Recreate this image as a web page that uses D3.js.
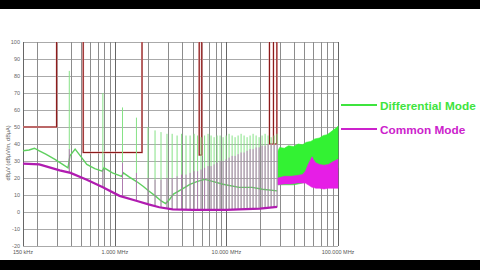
<!DOCTYPE html>
<html lang="en">
<head>
<meta charset="UTF-8">
<title>DM / CM spectrum</title>
<script src="https://cdn.jsdelivr.net/npm/d3@7"></script>
<style>
  html,body{margin:0;padding:0;width:480px;height:270px;overflow:hidden;background:#000;}
  svg{display:block;}
  text{font-family:"Liberation Sans",Arial,sans-serif;}
</style>
</head>
<body>
<svg id="chart" width="480" height="270"></svg>
<script>
// ---- values ----
var xTickValues = [0.15, 1, 10, 100];
var xTickLabels = ["150 kHz", "1.000 MHz", "10.000 MHz", "100.000 MHz"];
var yTickValues = [100, 90, 80, 70, 60, 50, 40, 30, 20, 10, 0, -10, -20];

// limit masks (MHz, dB)
var limitLW = [[0.15, 50], [0.30, 50], [0.30, 100]];
var limitMW = [[0.52, 100], [0.52, 35], [1.75, 35], [1.75, 100]];
var limitSW = [[5.7, 100], [5.7, 33.5], [6.0, 33.5], [6.0, 100]];
var limitCB = [[24.3, 100], [24.3, 40], [28.3, 40], [28.3, 100]];
var limitCBmid = [[26.4, 100], [26.4, 40]];

// differential mode floor (green) up to 30 MHz
var dmTrace = [[0.15,36],[0.17,36.5],[0.19,37.5],[0.21,36],[0.24,34],[0.29,31],[0.34,28],[0.38,26],
  [0.395,33],[0.44,37],[0.49,33],[0.56,28],[0.66,25.5],[0.77,24],[0.8,26],[0.95,23],[1.15,21],
  [1.19,23],[1.35,20.5],[1.55,18],[1.6,17.5],[1.8,15],[2.0,12.5],[2.3,9.5],[2.6,6.5],[2.85,5],
  [3.1,7.5],[3.35,10.5],[4.0,13.5],[4.7,16.3],[5.5,18],[6.4,19.2],[7.5,18],[9.3,16.3],[13,14.5],
  [17,14.5],[21,13.4],[28.5,12.4]];

// common mode floor (magenta) up to 30 MHz
var cmTrace = [[0.15,28.5],[0.21,28],[0.32,24.5],[0.4,23],[0.56,19],[0.78,14.5],[1.1,9.5],[1.58,6.5],
  [2.0,4.5],[2.5,2.8],[3.3,1.6],[5,1.2],[6.7,1.2],[10,1.3],[13,1.6],[20,2],[28.5,3]];

// harmonic spikes
var spikeFreq = [0.39,0.78,1.17,1.56,1.98,2.29,2.59,2.93,3.26,3.61,3.96,4.34,4.72,5.13,5.51,5.92,6.37,
  6.84,7.28,7.75,8.24,8.77,9.33,9.93,10.56,11.24,11.95,12.72,13.53,14.39,15.31,16.29,17.33,18.44,
  19.62,20.87,22.21,23.63,25.14,26.75,28.46];
var spikeFloor = [23,14.5,9,6.5,4.5,3.6,3,2.4,1.9,1.7,1.5,1.4,1.3,1.2,1.2,1.2,1.2,1.2,1.2,1.2,1.2,1.2,
  1.3,1.3,1.3,1.4,1.4,1.5,1.5,1.6,1.6,1.7,1.7,1.8,1.9,2,2.1,2.3,2.5,2.7,3];
var dmSpikeTop = [83,70,61.5,55.5,50,48,47,46,46,45,46,45,45,46,45,44,45,46,45,44,45,45,44,45,46,45,
  44,45,46,45,44,45,46,45,44,45,46,45,44,45,46];
var cmSpikeTop = [37,25,29,23,20,19,19,20,20,21,22,22,23,24,24,25,26,27,27,28,29,30,30,31,32,33,33,
  34,35,35,36,37,37,38,38,39,39,40,40,40,40];

// 30-100 MHz broadband envelopes [MHz, low, high]
var dmBand = [[29,16,36],[30,16,38],[33,16,37.5],[36,16,39],[40,16,38.5],[44,16.5,40],[48,17,39.5],
  [52,18,41],[57,19,41.5],[62,20,43],[68,21,43.5],[74,22,45],[80,23,45.5],[86,24,47],[92,25,48.5],
  [97,25,49.5],[100,26,50.5]];
var cmBand = [[29,16,20],[33,16.5,21],[38,16.5,21],[43,17,21.5],[48,17,22],[51,17,24],[54,16,28],
  [57,15,31],[58.5,14.5,32.5],[60,14.5,31],[63,14,29],[68,14,28],[75,13.5,27.5],[82,14,28],
  [90,14,29.5],[100,14,31]];

var legendNames = ["Differential Mode", "Common Mode"];
var legendColors = ["#3ee43e", "#cc22cc"];

// ---- drawing ----
var svg = d3.select("#chart");
svg.append("rect").attr("x", 0).attr("y", 9).attr("width", 480).attr("height", 251).attr("fill", "#fff");

var x = d3.scaleLog().domain([0.15, 100]).range([23, 338]);
var y = d3.scaleLinear().domain([-20, 100]).range([246, 42]);

var grid = svg.append("g");
grid.selectAll("line.h").data(yTickValues).enter().append("line")
  .attr("x1", x.range()[0]).attr("x2", x.range()[1])
  .attr("y1", function(d){ return y(d) + 0.5; }).attr("y2", function(d){ return y(d) + 0.5; })
  .attr("stroke", "#aaa").attr("stroke-width", 1);
var vTicks = [0.15].concat(x.ticks());
grid.selectAll("line.v").data(vTicks).enter().append("line")
  .attr("x1", function(d){ return Math.round(x(d)) + 0.5; }).attr("x2", function(d){ return Math.round(x(d)) + 0.5; })
  .attr("y1", y(100)).attr("y2", y(-20))
  .attr("stroke", function(d){ return (d === 1 || d === 10 || d === 100 || d === 0.15) ? "#666" : "#8c8c8c"; })
  .attr("stroke-width", 1);

// axis labels
svg.append("g").selectAll("text").data(yTickValues).enter().append("text")
  .attr("x", 20).attr("y", function(d){ return y(d) + 2; })
  .attr("text-anchor", "end").attr("font-size", 5.5).attr("fill", "#666")
  .text(function(d){ return d; });
svg.append("g").selectAll("text").data(xTickValues).enter().append("text")
  .attr("x", function(d){ return x(d); }).attr("y", 254)
  .attr("text-anchor", "middle").attr("font-size", 5.5).attr("fill", "#555")
  .text(function(d, i){ return xTickLabels[i]; });
svg.append("text").attr("transform", "translate(10,153) rotate(-90)")
  .attr("text-anchor", "middle").attr("font-size", 5.5).attr("fill", "#666")
  .text("dBµV  (dBµV/m, dBµA)");

var line = d3.line().x(function(d){ return x(d[0]); }).y(function(d){ return y(d[1]); });
var area = d3.area().x(function(d){ return x(d[0]); })
  .y0(function(d){ return y(d[1]); }).y1(function(d){ return y(d[2]); });

// limit lines
[limitLW, limitMW, limitSW, limitCB, limitCBmid].forEach(function(l){
  svg.append("path").attr("d", line(l)).attr("fill", "none")
    .attr("stroke", "#eab4b4").attr("stroke-width", 1.8);
  svg.append("path").attr("d", line(l)).attr("fill", "none")
    .attr("stroke", "#8b1a1a").attr("stroke-width", 1.1);
});

// green: spikes, floor, band
svg.append("g").selectAll("line").data(spikeFreq).enter().append("line")
  .attr("x1", function(d){ return x(d); }).attr("x2", function(d){ return x(d); })
  .attr("y1", function(d, i){ return y(spikeFloor[i]); })
  .attr("y2", function(d, i){ return y(dmSpikeTop[i]); })
  .attr("stroke", "#86e286").attr("stroke-width", 1);
svg.append("path").attr("d", line(dmTrace)).attr("fill", "none")
  .attr("stroke", "#5fcf5f").attr("stroke-width", 1.4);
svg.append("path").attr("d", area(dmBand)).attr("fill", "#33f233").attr("stroke", "#33f233").attr("stroke-width", 0.6);

// magenta: spikes, floor, band
svg.append("g").selectAll("line").data(spikeFreq).enter().append("line")
  .attr("x1", function(d){ return x(d); }).attr("x2", function(d){ return x(d); })
  .attr("y1", function(d, i){ return y(spikeFloor[i]); })
  .attr("y2", function(d, i){ return y(cmSpikeTop[i]); })
  .attr("stroke", "#c050c0").attr("stroke-opacity", 0.7).attr("stroke-width", 1);
svg.append("path").attr("d", line(cmTrace)).attr("fill", "none")
  .attr("stroke", "#b01cb0").attr("stroke-width", 2.2);
svg.append("path").attr("d", area(cmBand)).attr("fill", "#e61ee6").attr("stroke", "#e61ee6").attr("stroke-width", 0.6);

// legend
var legend = svg.append("g").selectAll("g").data(legendNames).enter().append("g")
  .attr("transform", function(d, i){ return "translate(0," + (105 + i * 24) + ")"; });
legend.append("line").attr("x1", 341).attr("x2", 377).attr("y1", 0).attr("y2", 0)
  .attr("stroke", function(d, i){ return legendColors[i]; }).attr("stroke-width", 2);
legend.append("text").attr("x", 380).attr("y", 4.5)
  .attr("font-size", 11.8).attr("font-weight", "bold")
  .attr("fill", function(d, i){ return legendColors[i]; })
  .text(function(d){ return d; });
</script>
</body>
</html>
